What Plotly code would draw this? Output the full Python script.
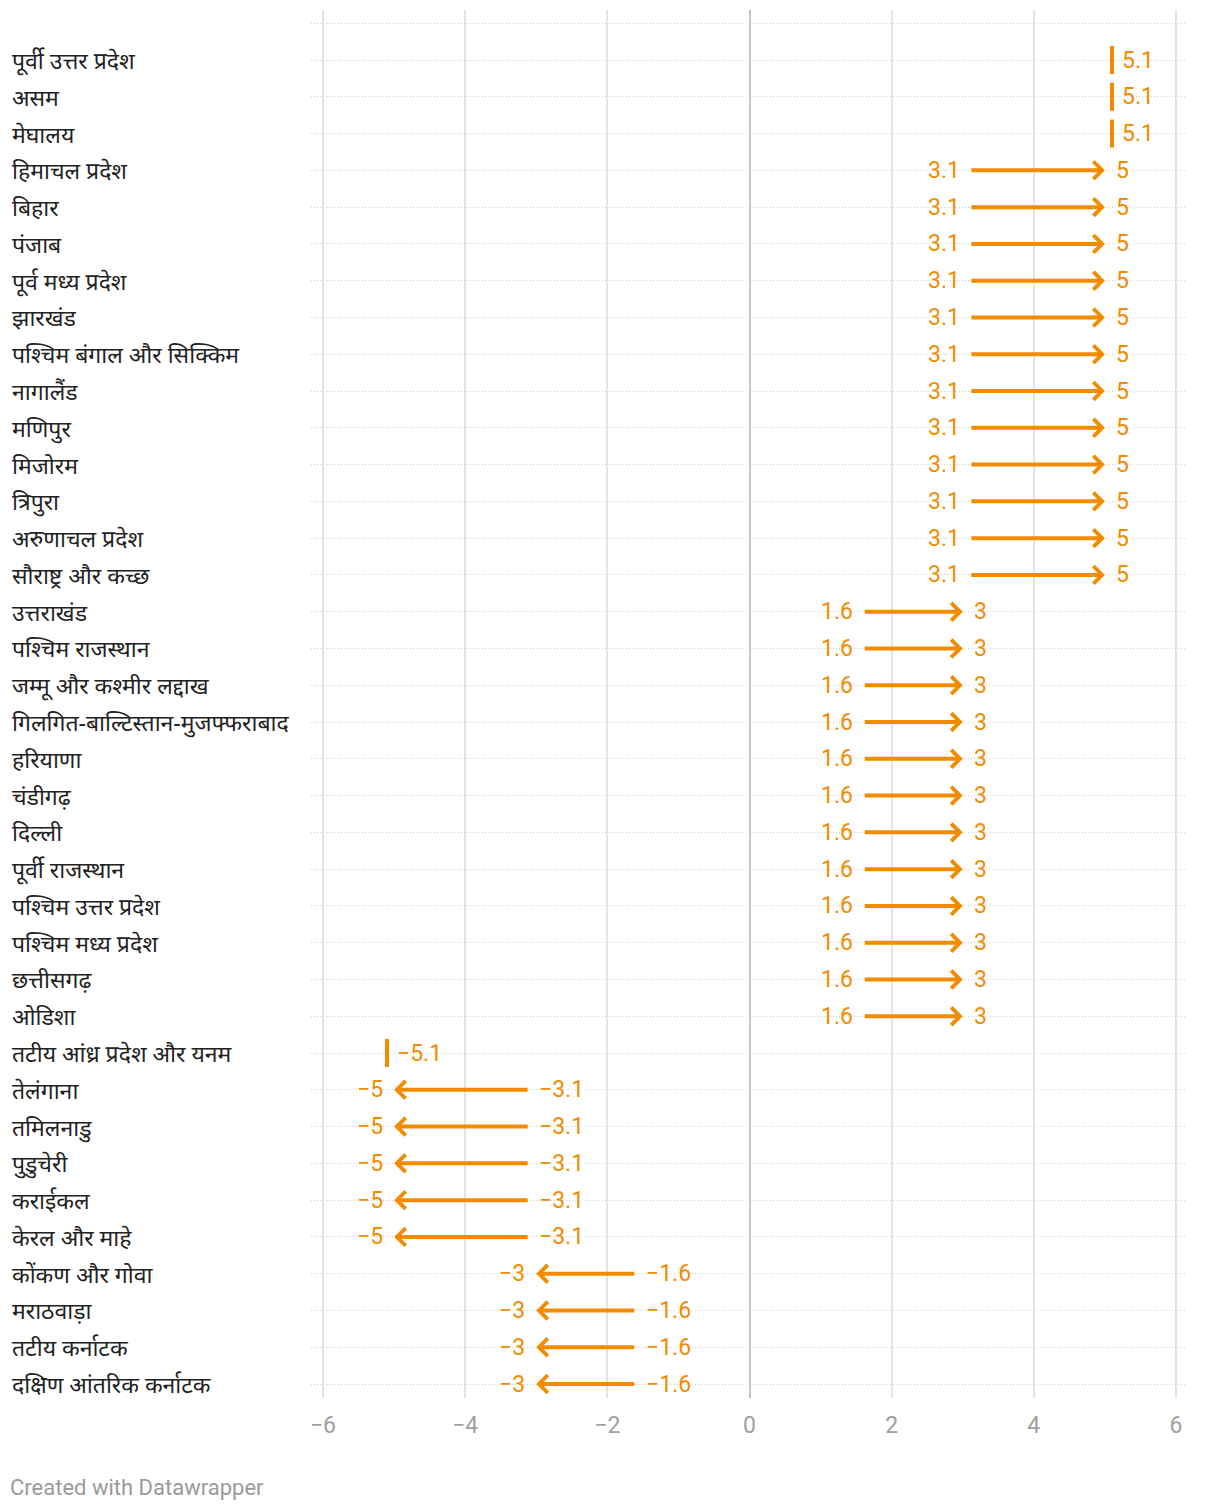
import plotly.graph_objects as go

regions = [
    "पूर्वी उत्तर प्रदेश", "असम", "मेघालय", "हिमाचल प्रदेश", "बिहार", "पंजाब",
    "पूर्व मध्य प्रदेश", "झारखंड", "पश्चिम बंगाल और सिक्किम", "नागालैंड", "मणिपुर",
    "मिजोरम", "त्रिपुरा", "अरुणाचल प्रदेश", "सौराष्ट्र और कच्छ", "उत्तराखंड",
    "पश्चिम राजस्थान", "जम्मू और कश्मीर लद्दाख", "गिलगित-बाल्टिस्तान-मुजफ्फराबाद",
    "हरियाणा", "चंडीगढ़", "दिल्ली", "पूर्वी राजस्थान", "पश्चिम उत्तर प्रदेश",
    "पश्चिम मध्य प्रदेश", "छत्तीसगढ़", "ओडिशा", "तटीय आंध्र प्रदेश और यनम",
    "तेलंगाना", "तमिलनाडु", "पुडुचेरी", "कराईकल", "केरल और माहे",
    "कोंकण और गोवा", "मराठवाड़ा", "तटीय कर्नाटक", "दक्षिण आंतरिक कर्नाटक",
]
start_values = [5.1, 5.1, 5.1] + [3.1] * 12 + [1.6] * 12 + [-5.1] + [-3.1] * 5 + [-1.6] * 4
end_values = [5.1, 5.1, 5.1] + [5] * 12 + [3] * 12 + [-5.1] + [-5] * 5 + [-3] * 4
x_ticks = [-6, -4, -2, 0, 2, 4, 6]

ORANGE = "#f28b00"
FONT = "Roboto, 'Noto Sans', sans-serif"


def fmt(v):
    s = f"{abs(v):g}"
    return ("\u2212" + s) if v < 0 else s


fig = go.Figure()
n = len(regions)

# single-value markers
single_x = [s for s, e in zip(start_values, end_values) if s == e]
single_y = [i for i, (s, e) in enumerate(zip(start_values, end_values)) if s == e]
fig.add_trace(go.Scatter(
    x=single_x, y=single_y, mode="markers",
    marker=dict(symbol="line-ns", size=20, line=dict(color=ORANGE, width=4)),
    hoverinfo="skip", showlegend=False,
))

annotations = []
for i, (lab, s, e) in enumerate(zip(regions, start_values, end_values)):
    annotations.append(dict(
        xref="paper", yref="y", x=-301 / 875, y=i, text=lab, showarrow=False,
        xanchor="left", yanchor="middle",
        font=dict(size=23, color="#222222", family="'Noto Sans', Roboto, sans-serif"),
    ))
    if s == e:
        annotations.append(dict(
            xref="x", yref="y", x=s, y=i, text=fmt(s), showarrow=False,
            xanchor="left", yanchor="middle", xshift=8,
            font=dict(size=23, color=ORANGE, family=FONT),
        ))
        continue
    direction = 1 if e > s else -1
    annotations.append(dict(
        xref="x", yref="y", axref="x", ayref="y", x=e, y=i, ax=s, ay=i, text="",
        showarrow=True, arrowhead=4, arrowsize=0.85, arrowwidth=4,
        arrowcolor=ORANGE, standoff=0,
    ))
    annotations.append(dict(
        xref="x", yref="y", x=s, y=i, text=fmt(s), showarrow=False,
        xanchor="right" if direction > 0 else "left", yanchor="middle",
        xshift=-8 * direction,
        font=dict(size=23, color=ORANGE, family=FONT),
    ))
    annotations.append(dict(
        xref="x", yref="y", x=e, y=i, text=fmt(e), showarrow=False,
        xanchor="left" if direction > 0 else "right", yanchor="middle",
        xshift=9 * direction,
        font=dict(size=23, color=ORANGE, family=FONT),
    ))

annotations.append(dict(
    xref="paper", yref="paper", x=-303 / 875, y=-89 / 1388, text="Created with Datawrapper",
    showarrow=False, xanchor="left", yanchor="middle",
    font=dict(size=22, color="#9a9a9a", family=FONT),
))

fig.update_layout(
    width=1220, height=1512,
    margin=dict(l=303, r=42, t=2, b=122),
    paper_bgcolor="white", plot_bgcolor="white",
    annotations=annotations,
    xaxis=dict(
        range=[-6 - 12 / 71.08, 6 + 10 / 71.08],
        tickvals=x_ticks, ticktext=[fmt(v) for v in x_ticks],
        showgrid=True, gridcolor="#e4e4e4", gridwidth=2,
        zeroline=True, zerolinecolor="#c4c4c4", zerolinewidth=2,
        ticks="outside", ticklen=6, tickcolor="rgba(0,0,0,0)",
        tickfont=dict(size=23, color="#a0a0a0", family=FONT),
        showline=False, fixedrange=True,
    ),
    yaxis=dict(
        range=[36.38, -1.36],
        tickvals=list(range(-1, n)), showticklabels=False,
        showgrid=True, gridcolor="#cfcfcf", gridwidth=1, griddash="1px,2px",
        zeroline=False, showline=False, fixedrange=True,
    ),
)

fig.write_html("out.html")
